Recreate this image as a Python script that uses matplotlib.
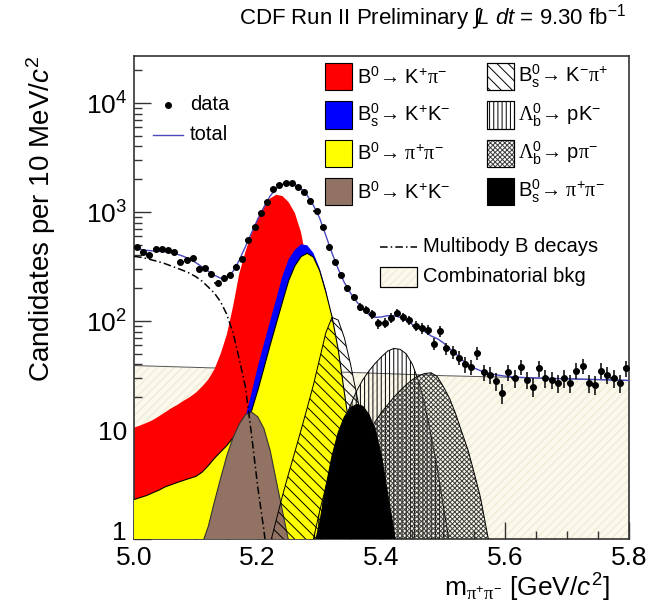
import numpy as np
import matplotlib
matplotlib.use("Agg")
import matplotlib.pyplot as plt
from matplotlib.patches import Rectangle
from matplotlib.lines import Line2D
from matplotlib.transforms import ScaledTranslation
from matplotlib.ticker import FixedLocator, LogLocator, MultipleLocator, FuncFormatter, NullFormatter

plt.rcParams["font.family"] = ["Liberation Sans", "DejaVu Sans"]
plt.rcParams["mathtext.fontset"] = "custom"
plt.rcParams["mathtext.rm"] = "Liberation Sans"
plt.rcParams["mathtext.it"] = "Liberation Sans:italic"
plt.rcParams["mathtext.sf"] = "Liberation Serif"
plt.rcParams["hatch.linewidth"] = 0.7

# ---------------------------------------------------------------------------
# Observed candidates in 10 MeV/c^2 bins, 5.00 - 5.80 GeV/c^2
data_counts = [475, 432, 403, 455, 455, 448, 427, 346, 363, 376,
               300, 304, 270, 225, 246, 264, 315, 371, 553, 733,
               986, 1227, 1615, 1770, 1833, 1833, 1707, 1535, 1270, 1028,
               724, 475, 350, 264, 200, 165, 135, 126, 116, 95,
               96, 107, 119, 109, 102, 90, 86, 83, 62, 81,
               56, 52, 46, 40, 38, 51, 34, 32, 28, 22,
               34, 30, 38, 29, 25, 37, 30, 29, 27, 30,
               27, 35, 39, 27, 26, 35, 32, 30, 27, 37]
bin_centers = np.linspace(5.005, 5.795, 80)

# Fit curves sampled every 10 MeV/c^2
curve_mass = np.linspace(5.00, 5.80, 81)
total_counts = [470, 455, 445, 440, 437, 432, 424, 410, 392, 370,
                343, 314, 286, 263, 247, 250, 285, 360, 480, 645,
                860, 1110, 1400, 1650, 1800, 1850, 1790, 1640, 1420, 1150,
                880, 610, 420, 300, 225, 180, 150, 128, 114, 108,
                109, 112, 112, 108, 101, 93, 87, 80, 73, 69,
                63, 56, 50, 44, 40, 37, 35, 33.5, 32.5, 31.8,
                31.2, 30.8, 30.5, 30.3, 30.1, 30.0, 29.9, 29.8, 29.7, 29.6,
                29.5, 29.4, 29.3, 29.2, 29.1, 29.0, 28.9, 28.8, 28.7, 28.6,
                28.5]
comb_counts = [39.0, 38.9, 38.7, 38.6, 38.4, 38.3, 38.1, 38.0, 37.8, 37.7,
               37.5, 37.4, 37.2, 37.1, 36.9, 36.8, 36.6, 36.5, 36.3, 36.2,
               36.0, 35.9, 35.7, 35.6, 35.4, 35.3, 35.1, 35.0, 34.8, 34.7,
               34.5, 34.4, 34.2, 34.1, 33.9, 33.8, 33.6, 33.5, 33.3, 33.2,
               33.0, 32.9, 32.7, 32.6, 32.4, 32.3, 32.1, 32.0, 31.8, 31.7,
               31.5, 31.4, 31.3, 31.2, 31.1, 31.0, 30.9, 30.8, 30.7, 30.6,
               30.5, 30.4, 30.3, 30.2, 30.1, 30.0, 29.9, 29.8, 29.7, 29.6,
               29.5, 29.4, 29.3, 29.2, 29.1, 29.0, 28.9, 28.8, 28.7, 28.6,
               28.5]

multibody_mass = np.linspace(5.00, 5.22, 23)
multibody_counts = [392, 385, 375, 362, 350, 336, 320, 305, 290, 274,
                    255, 232, 205, 180, 150, 115, 78, 45, 25, 9.0,
                    3.0, 1.2, 0.4]

b0kpi_mass = np.linspace(5.00, 5.34, 35)
b0kpi_counts = [10.5, 11.0, 11.6, 12.3, 13.3, 14.5, 15.8, 17.0, 18.5, 20.0,
                22.0, 25.0, 29.0, 36.0, 50.0, 75.0, 135, 270, 430, 640,
                880, 1130, 1330, 1440, 1400, 1230, 980, 650, 330, 130,
                45, 14, 4.0, 1.2, 0.3]

bskk_mass = np.linspace(5.16, 5.38, 23)
bskk_counts = [5.0, 8.0, 13.0, 22.0, 38.0, 62.0, 100, 160, 260, 370,
               450, 505, 495, 420, 305, 195, 105, 48, 20, 8.0,
               3.0, 1.0, 0.3]

b0pipi_mass = np.linspace(5.00, 5.38, 39)
b0pipi_counts = [2.3, 2.4, 2.5, 2.65, 2.8, 3.0, 3.15, 3.3, 3.45, 3.6,
                 3.75, 4.1, 4.7, 5.5, 6.3, 7.2, 8.5, 10.0, 12.0, 15.0,
                 23.0, 37.0, 60.0, 95.0, 150, 235, 320, 390, 418, 385,
                 290, 185, 110, 55, 22, 9.0, 3.5, 1.2, 0.4]

b0kk_mass = np.linspace(5.11, 5.25, 15)
b0kk_counts = [0.9, 1.3, 2.2, 3.6, 5.8, 8.5, 11.3, 13.8, 14.6, 13.2,
               10.3, 6.5, 3.4, 1.8, 0.95]

bskpi_mass = np.linspace(5.22, 5.41, 20)
bskpi_counts = [0.9, 1.5, 2.5, 4.0, 6.3, 10.0, 16.0, 26.0, 45.0, 78.0,
                108, 102, 70.0, 40.0, 21.0, 11.0, 5.5, 2.6, 1.2, 0.5]

lbpk_mass = np.linspace(5.29, 5.51, 23)
lbpk_counts = [1.0, 1.8, 3.0, 5.0, 8.0, 12.0, 17.0, 23.0, 29.0, 35.0,
               41.0, 47.0, 53.0, 56.0, 55.0, 50.0, 40.0, 28.0, 17.0, 9.0,
               4.5, 2.0, 0.9]

lbppi_mass = np.linspace(5.36, 5.58, 23)
lbppi_counts = [4.0, 6.5, 9.5, 12.0, 14.5, 17.0, 20.0, 23.0, 26.0, 29.0,
                31.5, 33.0, 33.5, 31.0, 25.0, 19.5, 14.0, 9.5, 6.5, 4.0,
                2.4, 1.2, 0.6]

bspipi_mass = np.linspace(5.29, 5.43, 15)
bspipi_counts = [0.8, 1.4, 3.0, 5.8, 9.5, 13.2, 16.0, 17.2, 16.5, 13.8,
                 10.0, 5.8, 2.6, 1.2, 0.5]

# ---------------------------------------------------------------------------
W, H = 668, 606
fig = plt.figure(figsize=(W / 100, H / 100), dpi=100)
ax = fig.add_axes([134 / W, 1 - 539 / H, (629 - 134) / W, (539 - 56) / H])
ax.set_yscale("log")
ax.set_xlim(5.0, 5.8)
ax.set_ylim(1, 2.7e4)

FLOOR = 0.3


def area(mass, counts, z, face="none", hatch=None, hatch_color="black",
         edge=None, lw=0.8):
    vals = np.clip(np.asarray(counts, dtype=float), FLOOR, None)
    ax.fill_between(mass, FLOOR, vals, facecolor=face, linewidth=0, zorder=z)
    if hatch:
        ax.fill_between(mass, FLOOR, vals, facecolor="none", edgecolor=hatch_color,
                        hatch=hatch, linewidth=0, zorder=z + 0.05)
    if edge:
        ax.plot(mass, vals, color=edge, lw=lw, zorder=z + 0.1)


red = "#ff0000"
blue = "#0000ff"
yellow = "#ffff00"
brown = "#917263"
comb_face = "#fbf8ec"
comb_hatch = "#efe8d0"
check_hatch = "#3c3c3c"

area(curve_mass, comb_counts, 1, face=comb_face, hatch="////", hatch_color=comb_hatch,
     edge="#555555", lw=0.7)
area(b0kpi_mass, b0kpi_counts, 2, face=red)
area(bskk_mass, bskk_counts, 3, face=blue)
area(b0pipi_mass, b0pipi_counts, 4, face=yellow, edge="black", lw=0.8)
area(b0kk_mass, b0kk_counts, 5, face=brown, edge="#333333", lw=0.8)
area(bskpi_mass, bskpi_counts, 6, hatch="\\\\\\", edge="black", lw=0.7)
area(lbpk_mass, lbpk_counts, 7, hatch="||||", edge="black", lw=0.7)
area(lbppi_mass, lbppi_counts, 8, hatch="xxxxxxx", hatch_color=check_hatch,
     edge="black", lw=0.7)
area(bspipi_mass, bspipi_counts, 9, face="black", edge="black", lw=0.7)

ax.plot(multibody_mass, np.clip(multibody_counts, FLOOR, None), color="black",
        lw=1.1, ls=(0, (5, 2, 1, 2)), zorder=10)
ax.plot(curve_mass, total_counts, color="#4848c0", lw=1.0, zorder=11)

data = np.asarray(data_counts, dtype=float)
ax.errorbar(bin_centers, data, yerr=np.sqrt(data), xerr=0.005, fmt="o", ms=4.0,
            color="black", ecolor="black", elinewidth=1.1, capsize=0, zorder=12)

# axes styling
for sp in ax.spines.values():
    sp.set_color("#333333")
    sp.set_linewidth(1.2)
ax.xaxis.set_major_locator(FixedLocator([5.0, 5.2, 5.4, 5.6, 5.8]))
ax.xaxis.set_minor_locator(MultipleLocator(0.05))
ax.xaxis.set_major_formatter(FuncFormatter(lambda v, p: f"{v:.1f}"))
ax.yaxis.set_major_locator(FixedLocator([1, 10, 100, 1000, 10000]))
ax.yaxis.set_minor_locator(LogLocator(base=10, subs=np.arange(2, 10)))
ax.yaxis.set_minor_formatter(NullFormatter())
ylab = {1: "1", 10: "10", 100: "10$^{2}$", 1000: "10$^{3}$", 10000: "10$^{4}$"}
ax.yaxis.set_major_formatter(FuncFormatter(lambda v, p: ylab.get(int(round(v)), "")))
ax.tick_params(which="both", direction="in", top=False, right=False, colors="#333333",
               labelcolor="black")
ax.tick_params(which="major", length=12, width=1, labelsize=19, pad=5)
ax.tick_params(which="minor", length=6, width=1)

# lift the "1" label a little so it clears the first mass label
fig.canvas.draw()
first = ax.yaxis.get_major_ticks()[0].label1
first.set_transform(first.get_transform() + ScaledTranslation(0, 0.08, fig.dpi_scale_trans))

ax.set_ylabel("Candidates per 10 MeV/$c^{2}$", fontsize=20, loc="top")
ax.yaxis.set_label_coords((58 - 134) / (629 - 134), 1.0)
ax.set_xlabel(r"m$_{\mathsf{\pi}^{+}\mathsf{\pi}^{-}}$ [GeV/$c^{2}$]", fontsize=19,
              loc="right")
ax.xaxis.set_label_coords((610 - 134) / (629 - 134), -(588 - 539) / (539 - 56))
ax.xaxis.label.set_verticalalignment("center")

fig.text(626 / W, 1 - 18 / H,
         r"CDF Run II Preliminary $\int\!L\ dt$ = 9.30 fb$^{-1}$",
         ha="right", va="center", fontsize=16)


# ---------------------------------------------------------------------------
# Legend, laid out in pixel coordinates of the figure
def fx(x):
    return x / W


def fy(y):
    return 1 - y / H


LEG_FS = 14.5


def leg_text(x, y, s):
    fig.text(fx(x), fy(y), s, ha="left", va="center", fontsize=LEG_FS)


def leg_box(x0, y0, w, h, face="none", hatch=None, hatch_color="black", edge="black"):
    r = Rectangle((fx(x0), fy(y0 + h)), w / W, h / H, transform=fig.transFigure,
                  facecolor=face, edgecolor=edge, lw=0.8)
    fig.add_artist(r)
    if hatch:
        rh = Rectangle((fx(x0), fy(y0 + h)), w / W, h / H, transform=fig.transFigure,
                       facecolor="none", edgecolor=hatch_color, hatch=hatch, lw=0)
        fig.add_artist(rh)
        fig.add_artist(Rectangle((fx(x0), fy(y0 + h)), w / W, h / H,
                                 transform=fig.transFigure, facecolor="none",
                                 edgecolor=edge, lw=0.8))


fig.add_artist(Line2D([fx(168)], [fy(105)], marker="o", ms=4.0, color="black",
                      transform=fig.transFigure))
leg_text(190, 105, "data")
fig.add_artist(Line2D([fx(153), fx(183)], [fy(135), fy(135)], color="#4848c0", lw=1.0,
                      transform=fig.transFigure))
leg_text(190, 135, "total")

pi = r"\mathsf{\pi}"
entries_left = [
    (red, None, r"B$^{0}$→ K$^{+}$$" + pi + "^{-}$"),
    (blue, None, r"B$^{0}_{\mathrm{s}}$→ K$^{+}$K$^{-}$"),
    (yellow, None, r"B$^{0}$→ $" + pi + "^{+}" + pi + "^{-}$"),
    (brown, None, r"B$^{0}$→ K$^{+}$K$^{-}$"),
]
entries_right = [
    ("none", "\\\\\\", r"B$^{0}_{\mathrm{s}}$→ K$^{-}$$" + pi + "^{+}$"),
    ("none", "||||", r"$\mathsf{\Lambda}^{0}_{\mathrm{b}}$→ pK$^{-}$"),
    ("none", "xxxxxxx", r"$\mathsf{\Lambda}^{0}_{\mathrm{b}}$→ p$" + pi + "^{-}$"),
    ("black", None, r"B$^{0}_{\mathrm{s}}$→ $" + pi + "^{+}" + pi + "^{-}$"),
]
row_y = [76.7, 115.0, 153.3, 191.7]
for (face, hatch, label), yc in zip(entries_left, row_y):
    leg_box(325, yc - 13.5, 27, 27, face=face, hatch=hatch)
    leg_text(357, yc, label)
for (face, hatch, label), yc in zip(entries_right, row_y):
    hc = check_hatch if hatch == "xxxxxxx" else "black"
    leg_box(487, yc - 13.5, 27, 27, face=face, hatch=hatch, hatch_color=hc)
    leg_text(518, yc, label)

fig.add_artist(Line2D([fx(380), fx(417)], [fy(246.7), fy(246.7)], color="black", lw=1.1,
                      ls=(0, (5, 2, 1, 2)), transform=fig.transFigure))
leg_text(423, 246.7, "Multibody B decays")
leg_box(380, 267, 37, 20, face=comb_face, hatch="////", hatch_color=comb_hatch)
leg_text(423, 277, "Combinatorial bkg")

fig.savefig("out.png", dpi=100)
